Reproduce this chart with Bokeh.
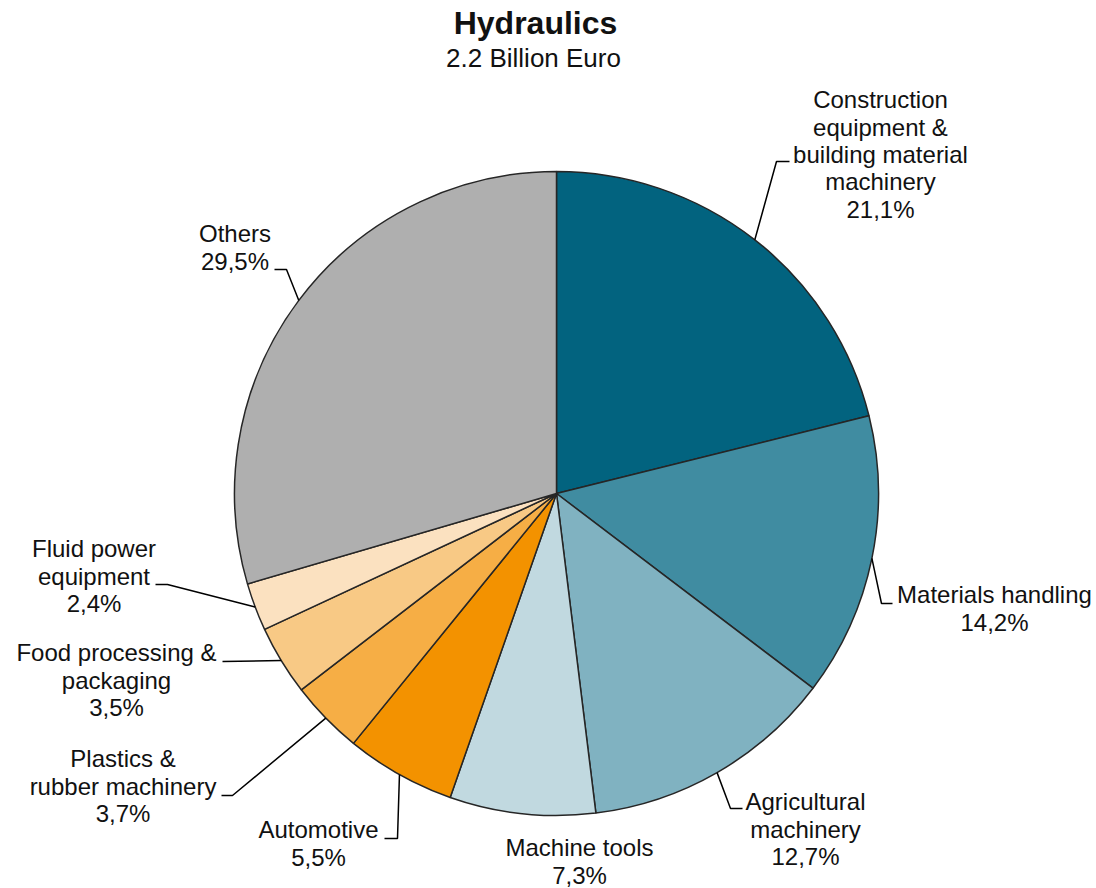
import math
from bokeh.plotting import figure
from bokeh.models import Range1d, ColumnDataSource
from bokeh.core.properties import value
from bokeh.embed import file_html
from bokeh.resources import INLINE

# ---------------- data ----------------
title = "Hydraulics"
subtitle = "2.2 Billion Euro"
categories = [
    "Construction\nequipment &\nbuilding material\nmachinery",
    "Materials handling",
    "Agricultural\nmachinery",
    "Machine tools",
    "Automotive",
    "Plastics &\nrubber machinery",
    "Food processing &\npackaging",
    "Fluid power\nequipment",
    "Others",
]
shares = [21.1, 14.2, 12.7, 7.3, 5.5, 3.7, 3.5, 2.4, 29.5]
colors = ["#02637f", "#408ca1", "#80b2c1", "#c1d9e0", "#f39200",
          "#f6ae45", "#f8c985", "#fbe1c0", "#afafaf"]

# ---------------- layout (page pixel coords) ----------------
W, H = 1096, 888
PAGE_H = 888
CX, CY, R = 556, 493, 322
FONT = "Liberation Sans"
LABEL_PX = 24
LINE_GAP = 27.3
BASE_SHIFT = 0.36  # baseline correction, fraction of font size

# label anchor: (center x, first-line baseline y)
label_pos = [(880, 108), (994, 603), (805, 810), (579, 856), (318, 838),
             (122.5, 767), (116, 661), (93.5, 557), (234.5, 242)]
# leader elbows (after pie edge point), None = no leader
leader_elbows = [
    [(776, 161), (789, 161)],
    [(881, 603), (892, 603)],
    [(730, 808), (742, 808)],
    None,
    [(397, 838), (384, 838)],
    [(232, 795), (221, 795)],
    [(222, 661)],
    [(167, 584), (155, 584)],
    [(286, 269), (274, 269)],
]


def Y(py):
    return PAGE_H - py


def TY(py, size):
    return PAGE_H - (py - BASE_SHIFT * size)


p = figure(width=W, height=H, output_backend="svg", toolbar_location=None,
           x_range=Range1d(0, W), y_range=Range1d(0, H),
           min_border=0, outline_line_color=None)
p.axis.visible = False
p.grid.visible = False
p.background_fill_color = "white"
p.border_fill_color = "white"

total = sum(shares)
starts, ends, mids = [], [], []
cum = 0.0
for s in shares:
    a0 = math.pi / 2 - 2 * math.pi * cum / total
    cum += s
    a1 = math.pi / 2 - 2 * math.pi * cum / total
    starts.append(a1)
    ends.append(a0)
    mids.append((a0 + a1) / 2)

src = ColumnDataSource(dict(x=[CX] * len(shares), y=[Y(CY)] * len(shares),
                            start=starts, end=ends, color=colors))
p.wedge(x="x", y="y", radius=R, start_angle="start", end_angle="end",
        direction="anticlock", fill_color="color", line_color="#262626",
        line_width=1.5, source=src)

# leader lines
xs, ys = [], []
for m, el in zip(mids, leader_elbows):
    if el is None:
        continue
    px = CX + R * math.cos(m)
    py = CY - R * math.sin(m)
    pts = [(px, py)] + el
    xs.append([q[0] for q in pts])
    ys.append([Y(q[1]) for q in pts])
p.multi_line(xs=xs, ys=ys, line_color="black", line_width=1.5)

# labels
tx, ty, tt = [], [], []
for cat, s, (lx, ly) in zip(categories, shares, label_pos):
    lines = cat.split("\n") + [f"{s:.1f}".replace(".", ",") + "%"]
    for i, ln in enumerate(lines):
        tx.append(lx)
        ty.append(TY(ly + i * LINE_GAP, LABEL_PX))
        tt.append(ln)
p.text(x=tx, y=ty, text=tt, text_align="center", text_baseline="alphabetic",
       text_font=value(FONT), text_font_size=f"{LABEL_PX}px",
       text_color="#111111")

# title / subtitle
p.text(x=[535], y=[TY(34, 32)], text=[title], text_align="center",
       text_baseline="alphabetic", text_font=value(FONT),
       text_font_size="32px", text_font_style="bold", text_color="#111111")
p.text(x=[533], y=[TY(67, 26)], text=[subtitle], text_align="center",
       text_baseline="alphabetic", text_font=value(FONT),
       text_font_size="26px", text_color="#111111")

open("out.html", "w").write(file_html(p, INLINE))
